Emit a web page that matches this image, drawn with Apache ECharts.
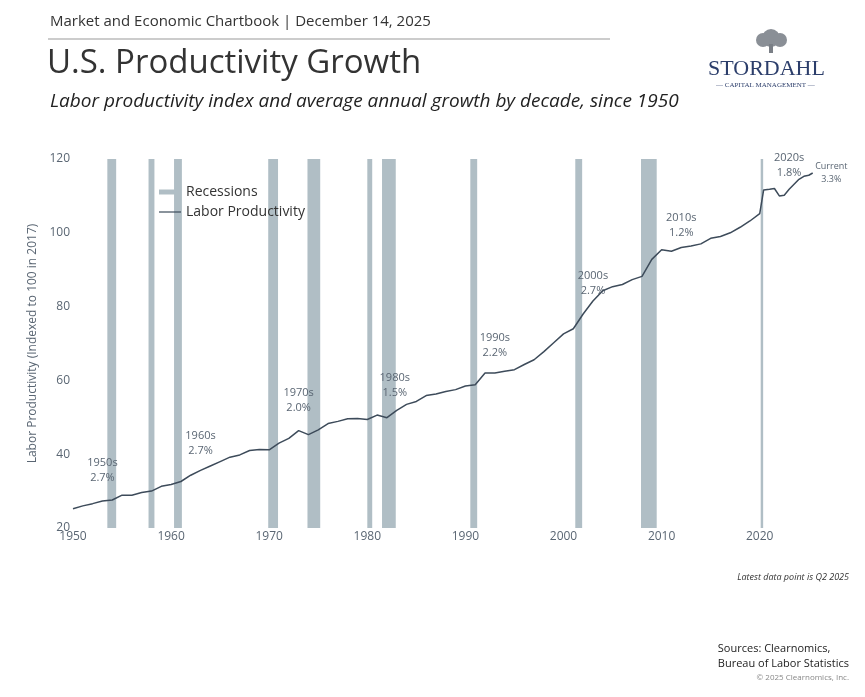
<!DOCTYPE html>
<html><head><meta charset="utf-8">
<script src="https://cdn.jsdelivr.net/npm/echarts@6/dist/echarts.min.js"></script>
<style>html,body{margin:0;padding:0;background:#fff}#c{width:865px;height:697px}</style>
</head><body><div id="c"></div>
<script>
const years = [1950,1951,1952,1953,1954,1955,1956,1957,1958,1959,1960,1961,1962,1963,1964,1965,1966,1967,1968,1969,1970,1971,1972,1973,1974,1975,1976,1977,1978,1979,1980,1981,1982,1983,1984,1985,1986,1987,1988,1989,1990,1991,1992,1993,1994,1995,1996,1997,1998,1999,2000,2001,2002,2003,2004,2005,2006,2007,2008,2009,2010,2011,2012,2013,2014,2015,2016,2017,2018,2019,2020,2020.4,2021,2021.5,2022,2022.5,2023,2024,2024.5,2025,2025.4];
const productivity = [25.2,26.0,26.6,27.3,27.6,28.9,28.9,29.6,30.0,31.3,31.8,32.6,34.3,35.6,36.8,38.0,39.2,39.8,41.0,41.3,41.2,43.0,44.3,46.4,45.3,46.6,48.3,48.9,49.6,49.7,49.4,50.6,49.9,51.9,53.5,54.3,55.9,56.3,57.0,57.5,58.5,58.8,62.0,62.0,62.5,62.9,64.3,65.6,67.8,70.2,72.6,74.0,78.0,81.5,84.3,85.4,86.0,87.3,88.2,92.8,95.4,95.0,96.0,96.4,97.0,98.5,99.0,100.0,101.5,103.2,105.2,111.6,111.8,112.0,110.0,110.2,111.8,114.5,115.3,115.6,116.2];
const recessions = [[1953.5,1954.4],[1957.7,1958.3],[1960.3,1961.1],[1969.9,1970.9],[1973.9,1975.2],[1980.0,1980.5],[1981.5,1982.9],[1990.5,1991.2],[2001.2,2001.9],[2007.9,2009.5],[2020.1,2020.35]];
const decadeLabels = [
  {x:1953.0,y:35.7,t:'1950s\n2.7%'},{x:1963.0,y:43,t:'1960s\n2.7%'},{x:1973.0,y:54.7,t:'1970s\n2.0%'},
  {x:1982.8,y:58.7,t:'1980s\n1.5%'},{x:1993.0,y:69.6,t:'1990s\n2.2%'},{x:2003.0,y:86.4,t:'2000s\n2.7%'},
  {x:2012.0,y:102,t:'2010s\n1.2%'},{x:2023.0,y:118.4,t:'2020s\n1.8%'}
];
const xTicks=[1950,1960,1970,1980,1990,2000,2010,2020];
const chart = echarts.init(document.getElementById('c'));
const txtCol='#5a6673';
const F='Open Sans';
chart.setOption({
  animation:false,
  textStyle:{fontFamily:F},
  grid:{left:73,top:159,width:765.2,height:369},
  graphic:[
    {type:'text',left:50,top:14,style:{text:'Market and Economic Chartbook | December 14, 2025',fontSize:15,fill:'#333',fontFamily:F}},
    {type:'line',shape:{x1:48,y1:39,x2:610,y2:39},style:{stroke:'#999',lineWidth:1}},
    {type:'text',left:47,top:47,style:{text:'U.S. Productivity Growth',fontSize:33,fill:'#333',fontFamily:F}},
    {type:'text',left:50,top:92,style:{text:'Labor productivity index and average annual growth by decade, since 1950',fontSize:19,fontStyle:'italic',fill:'#222',fontFamily:F}},
    {type:'circle',shape:{cx:771,cy:38,r:9},style:{fill:'#8a8f96'}},
    {type:'circle',shape:{cx:763,cy:40,r:7},style:{fill:'#8a8f96'}},
    {type:'circle',shape:{cx:780,cy:40,r:7},style:{fill:'#8a8f96'}},
    {type:'rect',shape:{x:769,y:44,width:4,height:9},style:{fill:'#7a7f86'}},
    {type:'text',left:708,top:58,style:{text:'STORDAHL',fontSize:22,fill:'#2c3e6b',fontFamily:'Liberation Serif'}},
    {type:'text',left:716,top:82,style:{text:'— CAPITAL MANAGEMENT —',fontSize:7,fill:'#2c3e6b',fontFamily:'Liberation Serif'}},
    {type:'text',right:16,top:573,style:{text:'Latest data point is Q2 2025',fontSize:9,fontStyle:'italic',fill:'#333',align:'right',fontFamily:F}},
    {type:'text',right:16,top:641,style:{text:'Sources: Clearnomics,\nBureau of Labor Statistics',fontSize:11,fill:'#222',align:'right',lineHeight:15,fontFamily:F}},
    {type:'text',right:16,top:674,style:{text:'© 2025 Clearnomics, Inc.',fontSize:8,fill:'#888',align:'right',fontFamily:F}}
  ],
  legend:{left:154,top:180,orient:'vertical',itemGap:6,itemWidth:22,itemHeight:5,
    textStyle:{fontSize:14,color:'#333',fontFamily:F},
    data:[{name:'Recessions',icon:'rect'},{name:'Labor Productivity',icon:'path://M0,0H22V1.2H0Z'}]},
  xAxis:{type:'value',min:1950,max:2028,interval:10,axisLine:{show:false},axisTick:{show:false},splitLine:{show:false},
    axisLabel:{color:txtCol,fontSize:12,margin:3,formatter:v=>xTicks.includes(v)?String(v):''}},
  yAxis:{type:'value',min:20,max:120,interval:20,axisLine:{show:false},axisTick:{show:false},splitLine:{show:false},
    axisLabel:{color:txtCol,fontSize:12,margin:3},
    name:'Labor Productivity (Indexed to 100 in 2017)',nameLocation:'middle',nameGap:32,nameTextStyle:{color:txtCol,fontSize:12}},
  series:[
    {name:'Recessions',type:'line',data:[],itemStyle:{color:'#b0bec5'},
      markArea:{silent:true,itemStyle:{color:'#b0bec5'},data:recessions.map(r=>[{xAxis:r[0],yAxis:20},{xAxis:r[1],yAxis:120}])}},
    {name:'Labor Productivity',type:'line',data:years.map((y,i)=>[y,productivity[i]]),showSymbol:false,
      lineStyle:{color:'#3d4b5a',width:1.5},itemStyle:{color:'#3d4b5a'},z:5,
      markPoint:{symbol:'rect',symbolSize:1,itemStyle:{color:'transparent'},
        label:{show:true,color:txtCol,fontSize:11,lineHeight:15,formatter:p=>p.name},
        data:decadeLabels.map(d=>({name:d.t,coord:[d.x,d.y]})).concat([{name:'Current\n3.3%',coord:[2027.3,116.3],label:{fontSize:9,lineHeight:13}}])}}
  ]
});
</script></body></html>
